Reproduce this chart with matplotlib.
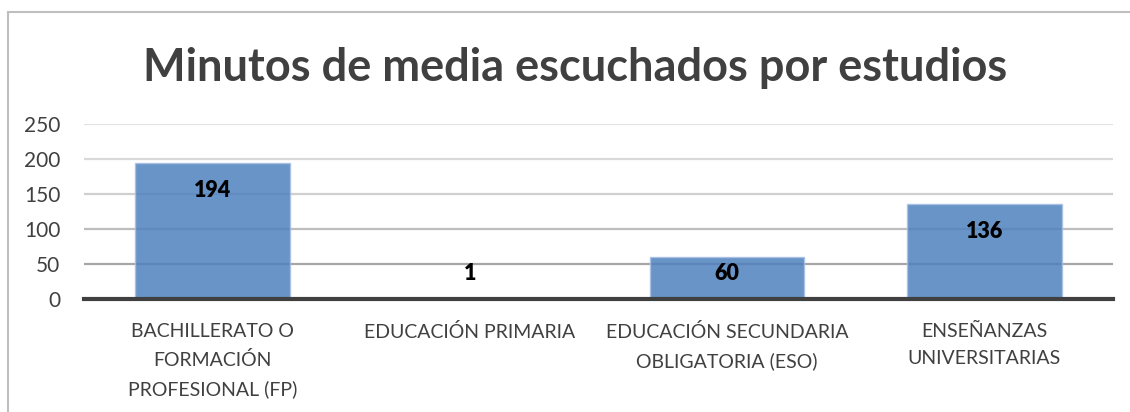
import matplotlib
matplotlib.use("Agg")
import matplotlib.pyplot as plt
from matplotlib.patches import Rectangle
import numpy as np

plt.rcParams['font.family'] = ['Lato', 'DejaVu Sans']

# datos
categorias = ["BACHILLERATO O\nFORMACIÓN\nPROFESIONAL (FP)",
              "EDUCACIÓN PRIMARIA",
              "EDUCACIÓN SECUNDARIA\nOBLIGATORIA (ESO)",
              "ENSEÑANZAS\nUNIVERSITARIAS"]
minutos = [194, 1, 60, 136]
yticks = [0, 50, 100, 150, 200, 250]
titulo = "Minutos de media escuchados por estudios"

gris = '#404040'
fig = plt.figure(figsize=(11.3, 4.12), dpi=100)
ax = fig.add_axes([0.0743, 0.2743, 0.9107, 0.4247])

# marco del grafico (solo arriba e izquierda se ven)
fig.patches.append(Rectangle((8/1130, -0.1), 1.2, 1 - 12/412 + 0.1, transform=fig.transFigure,
                             fill=False, edgecolor='#BFBFBF', linewidth=1.5))

x = np.arange(len(categorias))
ax.bar(x, minutos, width=0.6, color='#4F81BD', alpha=0.85, edgecolor='#A7C0E2',
       linewidth=1, zorder=3)

# lineas de cuadricula con degradado como en Excel
colores_grid = {50: '#A6A6A6', 100: '#BDBDBD', 150: '#CFCFCF', 200: '#D9D9D9', 250: '#E2E2E2'}
for v, c in colores_grid.items():
    ax.axhline(v, color=c, linewidth=1.6, zorder=1)

vals = np.array(minutos)
ypos = np.maximum(vals - 39, 37)
for xi, v, yp in zip(x, vals, ypos):
    ax.text(xi, yp, str(v), ha='center', va='center', fontsize=15.5, fontweight='heavy',
            color='black', zorder=5)

ax.set_xlim(-0.5, len(categorias) - 0.5)
ax.set_ylim(0, 250)
ax.set_yticks(yticks)
ax.set_xticks(x)
ax.set_xticklabels(categorias, linespacing=1.75)
ax.tick_params(axis='y', length=0, pad=17, labelsize=15, labelcolor=gris)
ax.tick_params(axis='x', length=0, pad=17, labelsize=14, labelcolor=gris)
for s in ['top', 'right', 'left']:
    ax.spines[s].set_visible(False)
ax.spines['bottom'].set_color(gris)
ax.spines['bottom'].set_linewidth(3)
ax.spines['bottom'].set_zorder(6)

fig.text(0.509, 1 - 68/412, titulo, ha='center', va='center', fontsize=32.5,
         fontweight='bold', color=gris)

fig.savefig('out.png', dpi=100)
